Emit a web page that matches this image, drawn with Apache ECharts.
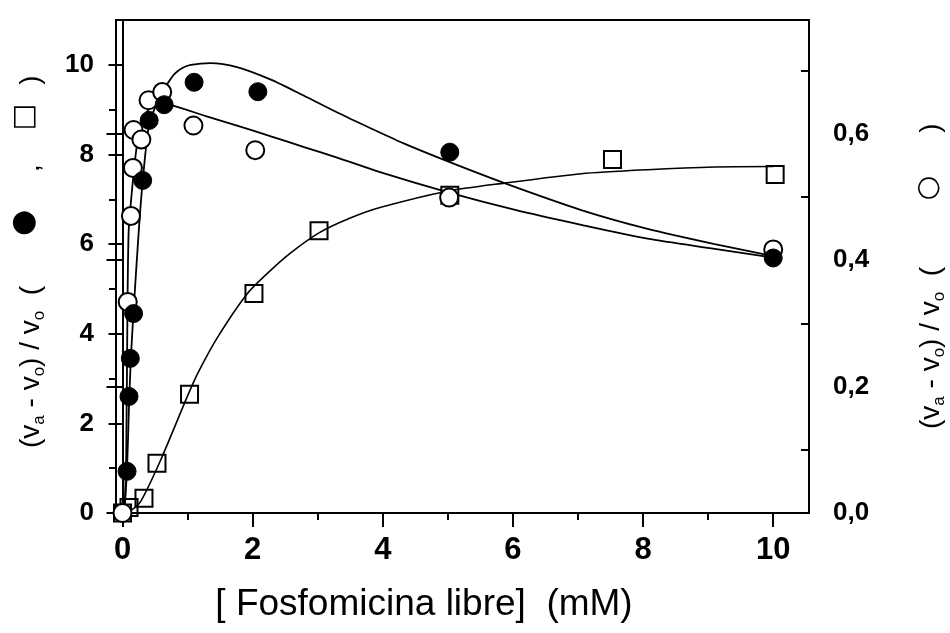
<!DOCTYPE html>
<html>
<head>
<meta charset="utf-8">
<script src="https://cdn.jsdelivr.net/npm/echarts@6/dist/echarts.min.js"></script>
<style>
html,body{margin:0;padding:0;background:#fff;}
#chart{width:950px;height:633px;}
</style>
</head>
<body>
<div id="chart"></div>
<script>
// ---- data ----
// x: [Fosfomicina libre] (mM)
const filledX = [0.07, 0.10, 0.12, 0.17, 0.31, 0.41, 0.64, 1.10, 2.08, 5.03, 10.0];
const filledY = [0.93, 2.60, 3.45, 4.45, 7.42, 8.76, 9.11, 9.61, 9.40, 8.05, 5.69];

const openX = [0.0, 0.08, 0.13, 0.16, 0.17, 0.29, 0.40, 0.61, 1.09, 2.04, 5.02, 10.0];
const openY = [0.0, 0.334, 0.470, 0.546, 0.606, 0.591, 0.653, 0.666, 0.613, 0.574, 0.499, 0.417];

const squareX = [0.0, 0.10, 0.33, 0.53, 1.03, 2.02, 3.02, 5.03, 7.53, 10.03];
const squareY = [0.0, 0.12, 0.33, 1.11, 2.65, 4.90, 6.30, 7.09, 7.89, 7.55];

// fitted curves
const fitFilledX = [0.03, 0.07, 0.10, 0.13, 0.17, 0.25, 0.31, 0.40, 0.50, 0.60, 0.70, 0.80, 0.92, 1.05, 1.35, 1.76, 2.28, 2.79, 3.31, 3.82, 4.33, 4.99, 5.87, 7.05, 8.07, 9.10, 10.0];
const fitFilledY = [0.0, 1.0, 2.4, 3.5, 4.5, 6.3, 7.4, 8.6, 9.05, 9.35, 9.6, 9.8, 9.93, 10.0, 10.04, 9.95, 9.67, 9.31, 8.93, 8.58, 8.24, 7.85, 7.36, 6.76, 6.34, 6.0, 5.73];

const fitOpenX = [0.03, 0.057, 0.077, 0.095, 0.138, 0.20, 0.28, 0.40, 0.55, 0.76, 1.28, 1.76, 2.28, 2.79, 3.31, 3.97, 5.02, 6.02, 7.05, 8.07, 9.10, 10.0];
const fitOpenY = [0.0, 0.092, 0.333, 0.447, 0.502, 0.565, 0.618, 0.638, 0.647, 0.645, 0.628, 0.613, 0.596, 0.579, 0.562, 0.539, 0.507, 0.480, 0.456, 0.434, 0.418, 0.404];

const fitSquareX = [0.0, 0.12, 0.28, 0.58, 0.99, 1.15, 1.46, 1.92, 2.28, 2.58, 3.02, 3.50, 3.97, 4.99, 5.87, 7.05, 8.07, 9.10, 10.0];
const fitSquareY = [0.0, 0.05, 0.26, 1.16, 2.58, 3.10, 3.92, 4.90, 5.42, 5.80, 6.25, 6.58, 6.82, 7.18, 7.36, 7.57, 7.66, 7.72, 7.73];

// tick labels
const xMajorTicks = [0, 2, 4, 6, 8, 10];
const xMinorTicks = [1, 3, 5, 7, 9];
const leftMajorTicks = [0, 2, 4, 6, 8, 10];
const leftMinorTicks = [1, 3, 5, 7, 9];
const rightMajorTicks = [0, 0.2, 0.4, 0.6];
const rightMinorTicks = [0.1, 0.3, 0.5, 0.7];

const zip = (xs, ys) => xs.map((x, i) => [x, ys[i]]);

const X_MIN = -0.1, X_MAX = 10.55;
const L_MIN = 0, L_MAX = 11;
const R_MIN = 0, R_MAX = 0.78;

const chart = echarts.init(document.getElementById('chart'), null, {renderer: 'canvas'});

const black = '#000';
const lineStyleAxis = {color: black, width: 2};
const titleFont = '"Liberation Sans", "DejaVu Sans", Arial';
const subRich = {
  s: {fontSize: 17, verticalAlign: 'bottom', lineHeight: 16, fontFamily: '"Liberation Sans", Arial'}
};

const option = {
  backgroundColor: '#fff',
  animation: false,
  grid: {left: 116, right: 141, top: 20, bottom: 120, show: true, borderColor: black, borderWidth: 2, backgroundColor: 'transparent'},
  xAxis: [
    {
      type: 'value', min: X_MIN, max: X_MAX, position: 'bottom',
      axisLine: {show: true, lineStyle: lineStyleAxis},
      axisTick: {show: true, customValues: xMajorTicks, length: 14, lineStyle: {color: black, width: 2}},
      axisLabel: {show: true, customValues: xMajorTicks, margin: 22, color: black,
        fontFamily: '"Liberation Sans Narrow", "Liberation Sans", Arial', fontWeight: 'bold', fontSize: 31},
      splitLine: {show: false}
    },
    {
      type: 'value', min: X_MIN, max: X_MAX, position: 'bottom',
      axisLine: {show: false},
      axisTick: {show: true, customValues: xMinorTicks, length: 7, lineStyle: {color: black, width: 2}},
      axisLabel: {show: false},
      splitLine: {show: false}
    }
  ],
  yAxis: [
    {
      type: 'value', min: L_MIN, max: L_MAX, position: 'left',
      axisLine: {show: true, lineStyle: lineStyleAxis},
      axisTick: {show: true, customValues: leftMajorTicks, length: 14, lineStyle: {color: black, width: 2}},
      axisLabel: {show: true, customValues: leftMajorTicks, margin: 22, color: black,
        fontFamily: '"Liberation Sans", Arial', fontWeight: 'bold', fontSize: 26},
      splitLine: {show: false}
    },
    {
      type: 'value', min: R_MIN, max: R_MAX, position: 'right',
      axisLine: {show: true, lineStyle: lineStyleAxis},
      axisTick: {show: true, inside: true, customValues: rightMajorTicks, length: 16, lineStyle: {color: black, width: 2}},
      axisLabel: {show: true, customValues: rightMajorTicks, margin: 24, color: black,
        fontFamily: '"Liberation Sans", Arial', fontWeight: 'bold', fontSize: 26,
        formatter: v => v.toFixed(1).replace('.', ',')},
      splitLine: {show: false}
    },
    {
      type: 'value', min: L_MIN, max: L_MAX, position: 'left',
      axisLine: {show: false},
      axisTick: {show: true, customValues: leftMinorTicks, length: 7, lineStyle: {color: black, width: 2}},
      axisLabel: {show: false},
      splitLine: {show: false}
    },
    {
      type: 'value', min: R_MIN, max: R_MAX, position: 'right',
      axisLine: {show: false},
      axisTick: {show: true, inside: true, customValues: rightMinorTicks, length: 8, lineStyle: {color: black, width: 2}},
      axisLabel: {show: false},
      splitLine: {show: false}
    }
  ],
  series: [
    {
      type: 'line', name: 'fitFilled', data: zip(fitFilledX, fitFilledY), xAxisIndex: 0, yAxisIndex: 0,
      showSymbol: false, smooth: 0.25,
      lineStyle: {color: black, width: 1.8}, z: 3
    },
    {
      type: 'line', name: 'fitOpen', data: zip(fitOpenX, fitOpenY), xAxisIndex: 0, yAxisIndex: 1,
      showSymbol: false, smooth: 0.25,
      lineStyle: {color: black, width: 1.8}, z: 3
    },
    {
      type: 'line', name: 'fitSquare', data: zip(fitSquareX, fitSquareY), xAxisIndex: 0, yAxisIndex: 0,
      showSymbol: false, smooth: 0.25,
      lineStyle: {color: black, width: 1.6}, z: 3
    },
    {
      type: 'scatter', name: 'squares', data: zip(squareX, squareY), xAxisIndex: 0, yAxisIndex: 0,
      symbol: 'rect', symbolSize: 17,
      itemStyle: {color: 'rgba(0,0,0,0)', borderColor: black, borderWidth: 2, opacity: 1}, z: 4
    },
    {
      type: 'scatter', name: 'open', data: zip(openX, openY), xAxisIndex: 0, yAxisIndex: 1,
      symbol: 'circle', symbolSize: 18,
      itemStyle: {color: '#fff', borderColor: black, borderWidth: 2, opacity: 1}, z: 5
    },
    {
      type: 'scatter', name: 'filled', data: zip(filledX, filledY), xAxisIndex: 0, yAxisIndex: 0,
      symbol: 'circle', symbolSize: 18,
      itemStyle: {color: black, borderColor: black, borderWidth: 1, opacity: 1}, z: 6
    }
  ],
  graphic: [
    {
      type: 'text', x: 424, y: 605,
      style: {
        text: '[ Fosfomicina libre]  (mM)',
        fontFamily: '"Liberation Sans", Arial', fontSize: 37, fill: black,
        align: 'center', verticalAlign: 'middle'
      }
    },
    // left axis title (reads bottom to top)
    {
      type: 'text', x: 31, y: 448, rotation: Math.PI / 2,
      style: {
        text: '(v{s|a} - v{s|o}) / v{s|o}  (',
        fontFamily: titleFont, fontSize: 28, fill: black,
        align: 'left', verticalAlign: 'middle', lineHeight: 34, rich: subRich
      }
    },
    {type: 'text', x: 24, y: 223, rotation: Math.PI / 2,
      style: {text: '●', fontFamily: '"DejaVu Sans"', fontSize: 30, fill: black, align: 'center', verticalAlign: 'middle'}},
    {type: 'text', x: 31, y: 168, rotation: Math.PI / 2,
      style: {text: ',', fontFamily: titleFont, fontSize: 28, fill: black, align: 'center', verticalAlign: 'middle'}},
    {type: 'text', x: 25, y: 117, rotation: Math.PI / 2,
      style: {text: '□', fontFamily: '"DejaVu Sans"', fontSize: 28, fill: black, align: 'center', verticalAlign: 'middle'}},
    {type: 'text', x: 31, y: 80, rotation: Math.PI / 2,
      style: {text: ')', fontFamily: titleFont, fontSize: 28, fill: black, align: 'center', verticalAlign: 'middle'}},
    // right axis title
    {
      type: 'text', x: 931, y: 429, rotation: Math.PI / 2,
      style: {
        text: '(v{s|a} - v{s|o}) / v{s|o}  (',
        fontFamily: titleFont, fontSize: 28, fill: black,
        align: 'left', verticalAlign: 'middle', lineHeight: 34, rich: subRich
      }
    },
    {type: 'text', x: 929, y: 188, rotation: Math.PI / 2,
      style: {text: '○', fontFamily: '"DejaVu Sans"', fontSize: 28, fill: black, align: 'center', verticalAlign: 'middle'}},
    {type: 'text', x: 931, y: 128, rotation: Math.PI / 2,
      style: {text: ')', fontFamily: titleFont, fontSize: 28, fill: black, align: 'center', verticalAlign: 'middle'}}
  ]
};

chart.setOption(option);
</script>
</body>
</html>
